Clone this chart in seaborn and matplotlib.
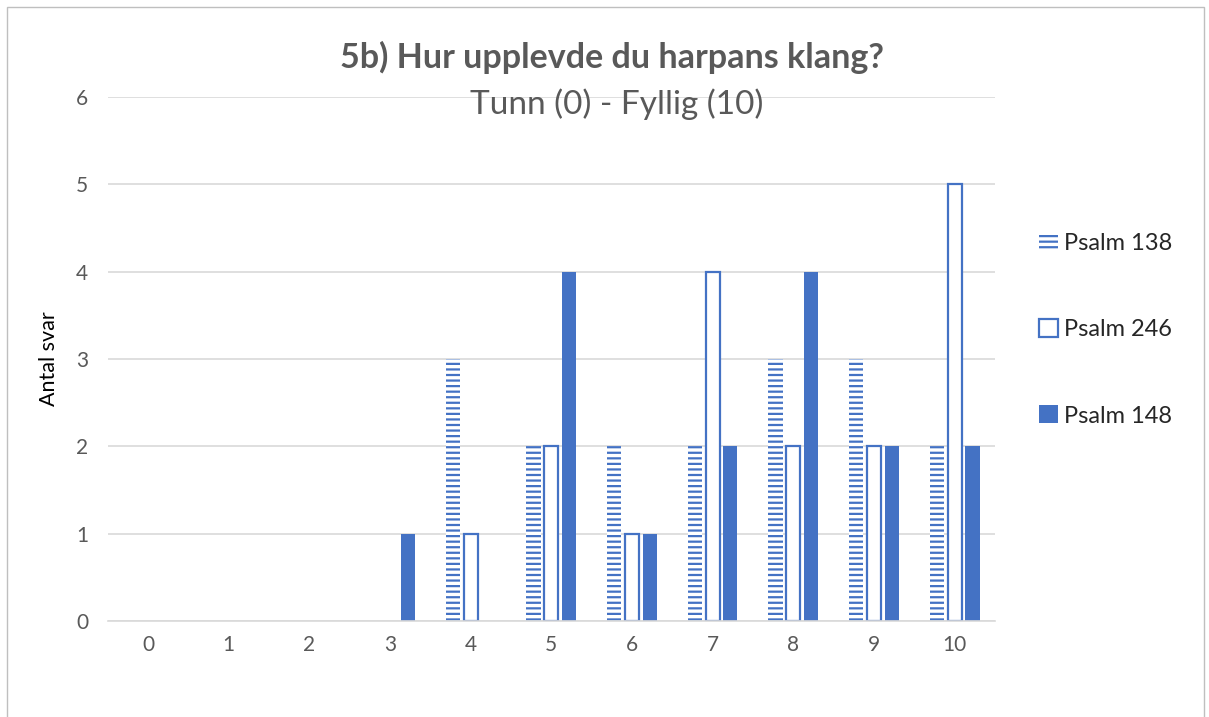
import pandas as pd
import numpy as np
import matplotlib.pyplot as plt
import seaborn as sns
from matplotlib.patches import Rectangle

scores = [0, 1, 2, 3, 4, 5, 6, 7, 8, 9, 10]
psalm_138 = [0, 0, 0, 0, 3, 2, 2, 2, 3, 3, 2]
psalm_246 = [0, 0, 0, 0, 1, 2, 1, 4, 2, 2, 5]
psalm_148 = [0, 0, 0, 1, 0, 4, 1, 2, 4, 2, 2]
series = ["Psalm 138", "Psalm 246", "Psalm 148"]

df = pd.DataFrame({"Poang": scores, "Psalm 138": psalm_138,
                   "Psalm 246": psalm_246, "Psalm 148": psalm_148})
long = df.melt(id_vars="Poang", var_name="Psalm", value_name="Antal")
long["Poang"] = long["Poang"].astype(str)

sns.set_style("white")
plt.rcParams["font.family"] = ["Lato", "DejaVu Sans"]
plt.rcParams["hatch.linewidth"] = 1.6
blue = "#4472C4"
grey = "#595959"

fig = plt.figure(figsize=(12.09, 7.17), dpi=100)
ax = fig.add_axes([0.089, 0.134, 0.734, 0.731])

sns.barplot(data=long, x="Poang", y="Antal", hue="Psalm", hue_order=series,
            order=[str(s) for s in scores], width=0.66, gap=0.2, ax=ax,
            errorbar=None, legend=False)

for i, cont in enumerate(ax.containers):
    for bar in cont:
        if bar.get_height() == 0:
            bar.set_visible(False)
        if i == 0:
            bar.set_facecolor("white")
            bar.set_edgecolor(blue)
            bar.set_hatch("---")
            bar.set_linewidth(0)
        elif i == 1:
            bar.set_facecolor("white")
            bar.set_edgecolor(blue)
            bar.set_linewidth(1.6)
        else:
            bar.set_facecolor(blue)
            bar.set_edgecolor(blue)
            bar.set_linewidth(0)

ax.set_ylim(0, 6)
ax.set_xlim(-0.5, 10.5)
ax.set_yticks(range(7))
ax.yaxis.grid(True, color="#D9D9D9", linewidth=1.2)
ax.set_axisbelow(True)
for s in ["top", "right", "left"]:
    ax.spines[s].set_visible(False)
ax.spines["bottom"].set_color("#D9D9D9")
ax.spines["bottom"].set_linewidth(1.2)
ax.tick_params(axis="both", length=0, labelsize=15, colors=grey, pad=10)
ax.tick_params(axis="y", pad=14)
ax.set_xlabel("")
ax.set_ylabel("Antal svar", fontsize=15.5, color="black", labelpad=12)

handles = [
    Rectangle((0, 0), 1, 1, facecolor="white", edgecolor=blue, hatch="---", linewidth=0),
    Rectangle((0, 0), 1, 1, facecolor="white", edgecolor=blue, linewidth=1.6),
    Rectangle((0, 0), 1, 1, facecolor=blue, edgecolor=blue, linewidth=0),
]
fig.legend(handles, series, loc="center left", bbox_to_anchor=(0.842, 0.54),
           frameon=False, fontsize=17, labelspacing=2.75, handlelength=0.8,
           handleheight=0.8, handletextpad=0.25)

fig.text(0.506, 0.92, "5b) Hur upplevde du harpans klang?", ha="center", va="center",
         fontsize=24.5, fontweight="bold", color=grey)
fig.text(0.51, 0.855, "Tunn (0) - Fyllig (10)", ha="center", va="center",
         fontsize=24, color=grey)

fig.patches.append(Rectangle((0.006, -0.01), 0.99, 1.0, transform=fig.transFigure,
                             fill=False, edgecolor="#BFBFBF", linewidth=1))

fig.savefig("out.png", dpi=100)
